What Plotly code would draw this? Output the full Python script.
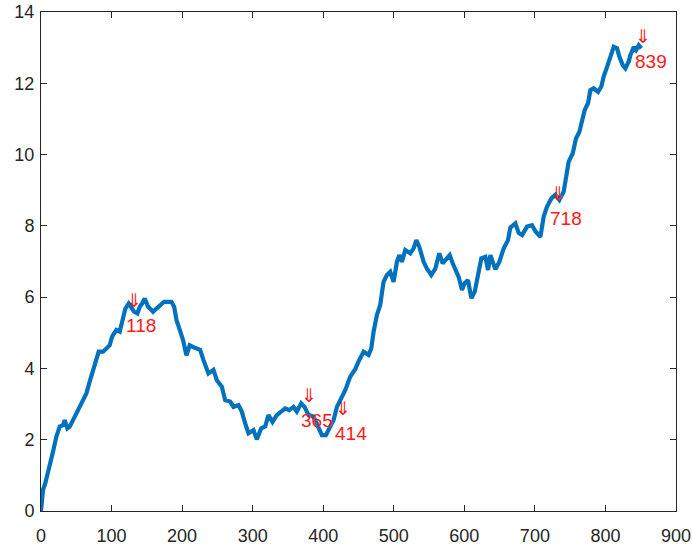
import numpy as np
import plotly.graph_objects as go

# Traced random-walk path (sample index, value)
xs = [0, 2.8, 6.1, 12.3, 17, 21.7, 26.5, 31.2, 33.6, 37.4, 40.7, 45.4, 52.5, 59.6, 64.3,
      69, 73.8, 78.5, 81.8, 88, 92.7, 97.4, 100.7, 106.9, 111.6, 116.3, 119.6, 124.3, 128,
      131.9, 136.6, 140, 143.3, 147, 151.8, 158.9, 163.6, 168.3, 174.5, 180.1, 184.9, 188.7,
      192, 196.7, 201.4, 206.1, 210.8, 218, 225.5, 230.2, 237.3, 244.4, 249.2, 256.3, 261,
      268.1, 272.8, 279.9, 284.6, 289.4, 294.1, 301.2, 305.9, 312.1, 317.7, 322.4, 328.1,
      334.2, 340.4, 346.1, 351.8, 357.9, 362.6, 368.8, 373.5, 379.2, 386.3, 393.4, 398.1,
      403.8, 409.9, 414.7, 419.4, 424.1, 431.2, 438.3, 445.4, 450, 457.2, 464.3, 468.1,
      471.4, 476.1, 480.8, 485.5, 490.3, 495, 499.7, 504.5, 507.8, 511.5, 516.3, 523.4,
      528.1, 531.9, 536.2, 542.3, 547, 553.2, 558.9, 564.5, 569.3, 575.4, 579.2, 583.5,
      587.2, 591.9, 596.7, 600.5, 605.2, 609.9, 614.7, 619.4, 624.1, 629.8, 633.6, 636.9,
      640.2, 644, 649.6, 655.8, 661.9, 665.2, 672.3, 677, 681.8, 688.9, 695.9, 700.7,
      707.8, 712.5, 717.2, 723.4, 729, 734.7, 740.8, 744.1, 747.9, 753.6, 758.3, 763.1,
      766.8, 770.6, 775.3, 778.6, 783.3, 789.5, 794.2, 797.5, 802.3, 807, 811.7, 816.5,
      819.8, 824.5, 828.3, 833, 835.3, 840.1, 843.4, 847.2, 850.9]
ys = [0.0, 0.59, 0.78, 1.24, 1.66, 2.08, 2.37, 2.41, 2.55, 2.32, 2.37, 2.55, 2.83, 3.11, 3.30,
      3.63, 3.96, 4.33, 4.47, 4.47, 4.56, 4.65, 4.89, 5.08, 5.03, 5.45, 5.68, 5.82, 5.73,
      5.59, 5.54, 5.73, 5.82, 5.96, 5.73, 5.59, 5.68, 5.78, 5.87, 5.87, 5.87, 5.73,
      5.36, 5.08, 4.79, 4.37, 4.65, 4.58, 4.52, 4.24, 3.86, 3.96, 3.67, 3.49, 3.11,
      3.07, 2.92, 2.97, 2.79, 2.46, 2.18, 2.27, 2.01, 2.32, 2.37, 2.69, 2.50,
      2.69, 2.79, 2.88, 2.83, 2.92, 2.79, 3.02, 2.92, 2.69, 2.65, 2.37, 2.13,
      2.13, 2.37, 2.55, 2.92, 3.11, 3.39, 3.77, 3.98, 4.19, 4.47, 4.38, 4.56,
      5.03, 5.50, 5.78, 6.43, 6.62, 6.71, 6.43, 6.99, 7.18, 6.99, 7.32, 7.23,
      7.37, 7.60, 7.41, 6.99, 6.80, 6.62, 6.80, 7.23, 6.95, 7.09, 7.18, 6.95,
      6.80, 6.57, 6.20, 6.39, 6.48, 5.97, 6.15, 6.62, 7.09, 7.13, 6.76, 7.18,
      6.95, 6.78, 6.99, 7.37, 7.60, 7.95, 8.07, 7.80, 7.74, 7.98, 8.02, 7.85,
      7.69, 8.26, 8.54, 8.77, 8.87, 8.73, 8.96, 9.33, 9.80, 10.03, 10.45, 10.64,
      10.97, 11.25, 11.44, 11.81, 11.86, 11.76, 11.91, 12.19, 12.46, 12.70, 13.02, 12.98,
      12.74, 12.51, 12.42, 12.61, 12.79, 13.02, 12.93, 13.07, 12.98]

# Marked sample indices
marks = [118, 365, 414, 718, 839]

axis_color = "#262626"
line_color = "#0072BD"
font_family = "Liberation Sans, Arial, Helvetica"

fig = go.Figure()
fig.add_trace(go.Scatter(x=xs, y=ys, mode="lines",
                         line=dict(color=line_color, width=4.2),
                         hoverinfo="skip", showlegend=False))

mark_y = np.interp(marks, xs, ys)
for m, my in zip(marks, mark_y):
    fig.add_annotation(x=m, y=float(my), xref="x", yref="y",
                       text="⇓<br>" + str(m), showarrow=False,
                       xanchor="left", yanchor="middle", align="left",
                       font=dict(family=font_family, size=19, color="#ff1a1a"))

axis_common = dict(showline=True, linecolor=axis_color, linewidth=1, mirror="ticks",
                   ticks="inside", ticklen=6, tickcolor=axis_color, showgrid=False,
                   zeroline=False, automargin=False,
                   tickfont=dict(family=font_family, size=18, color=axis_color))

fig.update_xaxes(range=[0, 900], tickvals=list(range(0, 901, 100)),
                 ticklabelstandoff=8, **axis_common)
fig.update_yaxes(range=[0, 14], tickvals=list(range(0, 15, 2)),
                 ticklabelstandoff=2, **axis_common)

fig.update_layout(width=692, height=549, plot_bgcolor="white", paper_bgcolor="white",
                  margin=dict(l=41, r=16, t=12, b=38))

fig.write_html("out.html")
